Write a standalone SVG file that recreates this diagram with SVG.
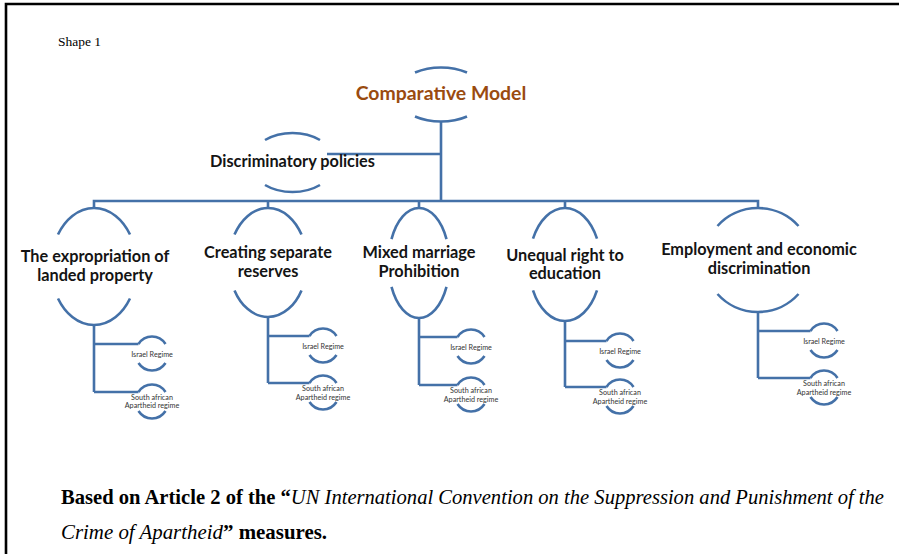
<svg xmlns="http://www.w3.org/2000/svg" width="899" height="554" viewBox="0 0 899 554">
<style>
.ln{fill:none;stroke:#4471a8;stroke-width:2.6;stroke-linecap:butt}
.arc{fill:none;stroke:#4471a8;stroke-width:2.6}
.big{font-family:Lato,"Open Sans",sans-serif;font-weight:bold;font-size:16.3px;fill:#141414;text-anchor:middle}
.sm{font-family:Lato,"Open Sans",sans-serif;font-size:7.2px;fill:#333;text-anchor:middle}
.ser{font-family:"Liberation Serif","Times New Roman",serif;fill:#000}
</style>
<rect width="899" height="554" fill="#fff"/>
<path d="M6 554 V4 H899" fill="none" stroke="#000" stroke-width="2.6"/>
<text class="ser" x="58" y="46" font-size="13.5">Shape 1</text>

<g id="connectors">
<path class="ln" d="M441 122 V201 M327 154 H441 M94 208 V201 H758 V208 M268 201 V208 M419 201 V208 M565 201 V208"/>
<path class="ln" d="M94 325 V392 M94 344 H138.5 M94 392 H138.5"/>
<path class="ln" d="M268 317 V383 M268 336 H309.5 M268 383 H309.5"/>
<path class="ln" d="M419 318 V385 M419 337 H457.5 M419 385 H457.5"/>
<path class="ln" d="M565 321 V387 M565 341 H606.5 M565 387 H606.5"/>
<path class="ln" d="M758 312 V378 M758 331 H810.5 M758 378 H810.5"/>
</g>

<g id="comparative-model">
<path class="arc" d="M415 72.5 A45 27.5 0 0 1 467 72.5 M415 116.5 A45 27.5 0 0 0 467 116.5"/>
<text x="441" y="100" text-anchor="middle" font-family="Lato,'Open Sans',sans-serif" font-weight="bold" font-size="19.4" fill="#9a4b10">Comparative Model</text>
</g>

<g id="discriminatory-policies">
<path class="arc" d="M265 140 A42.4 29.5 0 0 1 320 140 M265 185 A42.4 29.5 0 0 0 320 185"/>
<text class="big" x="292.5" y="167">Discriminatory policies</text>
</g>

<g id="node-expropriation">
<path class="arc" d="M58 234.5 A43 58.5 0 0 1 130 234.5 M58 298.5 A43 58.5 0 0 0 130 298.5"/>
<text class="big" x="95" y="262">The expropriation of</text>
<text class="big" x="95" y="281">landed property</text>
</g>
<g id="node-reserves">
<path class="arc" d="M234.5 234.6 A39 54.5 0 0 1 301.5 234.6 M234.5 290.4 A39 54.5 0 0 0 301.5 290.4"/>
<text class="big" x="268" y="258">Creating separate</text>
<text class="big" x="268" y="277">reserves</text>
</g>
<g id="node-marriage">
<path class="arc" d="M391.5 239.2 A30.5 55 0 0 1 446.5 239.2 M391.5 286.8 A30.5 55 0 0 0 446.5 286.8"/>
<text class="big" x="419" y="258">Mixed marriage</text>
<text class="big" x="419" y="277">Prohibition</text>
</g>
<g id="node-education">
<path class="arc" d="M533 238.6 A36 56.5 0 0 1 597 238.6 M533 290.4 A36 56.5 0 0 0 597 290.4"/>
<text class="big" x="565" y="261">Unequal right to</text>
<text class="big" x="565" y="279">education</text>
</g>
<g id="node-employment">
<path class="arc" d="M717.5 226 A53.6 52 0 0 1 798.5 226 M717.5 294 A53.6 52 0 0 0 798.5 294"/>
<text class="big" x="759" y="255">Employment and economic</text>
<text class="big" x="759" y="274">discrimination</text>
</g>

<g id="n1-israel"><path class="arc" d="M138.5 344 A16.3 17 0 0 1 165.5 344 M138.5 363 A16.3 17 0 0 0 165.5 363"/><text class="sm" x="152" y="356.5">Israel  Regime</text></g>
<g id="n1-sa"><path class="arc" d="M138.5 392 A16.3 17 0 0 1 165.5 392 M138.5 411 A16.3 17 0 0 0 165.5 411"/><text class="sm" x="152" y="400">South african</text><text class="sm" x="152" y="408">Apartheid  regime</text></g>

<g id="n2-israel"><path class="arc" d="M309.5 336 A16.3 17 0 0 1 336.5 336 M309.5 355 A16.3 17 0 0 0 336.5 355"/><text class="sm" x="323" y="348.5">Israel  Regime</text></g>
<g id="n2-sa"><path class="arc" d="M309.5 383 A16.3 17 0 0 1 336.5 383 M309.5 402 A16.3 17 0 0 0 336.5 402"/><text class="sm" x="323" y="391">South african</text><text class="sm" x="323" y="399.5">Apartheid  regime</text></g>

<g id="n3-israel"><path class="arc" d="M457.5 337 A16.3 17 0 0 1 484.5 337 M457.5 356 A16.3 17 0 0 0 484.5 356"/><text class="sm" x="471" y="349.5">Israel  Regime</text></g>
<g id="n3-sa"><path class="arc" d="M457.5 385 A16.3 17 0 0 1 484.5 385 M457.5 404 A16.3 17 0 0 0 484.5 404"/><text class="sm" x="471" y="393">South african</text><text class="sm" x="471" y="401.5">Apartheid  regime</text></g>

<g id="n4-israel"><path class="arc" d="M606.5 341 A16.3 17 0 0 1 633.5 341 M606.5 360 A16.3 17 0 0 0 633.5 360"/><text class="sm" x="620" y="353.5">Israel  Regime</text></g>
<g id="n4-sa"><path class="arc" d="M606.5 387 A16.3 17 0 0 1 633.5 387 M606.5 406 A16.3 17 0 0 0 633.5 406"/><text class="sm" x="620" y="395">South african</text><text class="sm" x="620" y="403.5">Apartheid  regime</text></g>

<g id="n5-israel"><path class="arc" d="M810.5 331 A16.3 17 0 0 1 837.5 331 M810.5 350 A16.3 17 0 0 0 837.5 350"/><text class="sm" x="824" y="343.5">Israel  Regime</text></g>
<g id="n5-sa"><path class="arc" d="M810.5 378 A16.3 17 0 0 1 837.5 378 M810.5 397 A16.3 17 0 0 0 837.5 397"/><text class="sm" x="824" y="386">South african</text><text class="sm" x="824" y="394.5">Apartheid  regime</text></g>

<text class="ser" x="61" y="504" font-size="21" textLength="823" lengthAdjust="spacingAndGlyphs"><tspan font-weight="bold">Based on Article 2 of the “</tspan><tspan font-style="italic">UN International Convention on the Suppression and Punishment of the</tspan></text>
<text class="ser" x="61" y="539" font-size="21" textLength="266" lengthAdjust="spacingAndGlyphs"><tspan font-style="italic">Crime of Apartheid</tspan><tspan font-weight="bold">”  measures.</tspan></text>
</svg>
